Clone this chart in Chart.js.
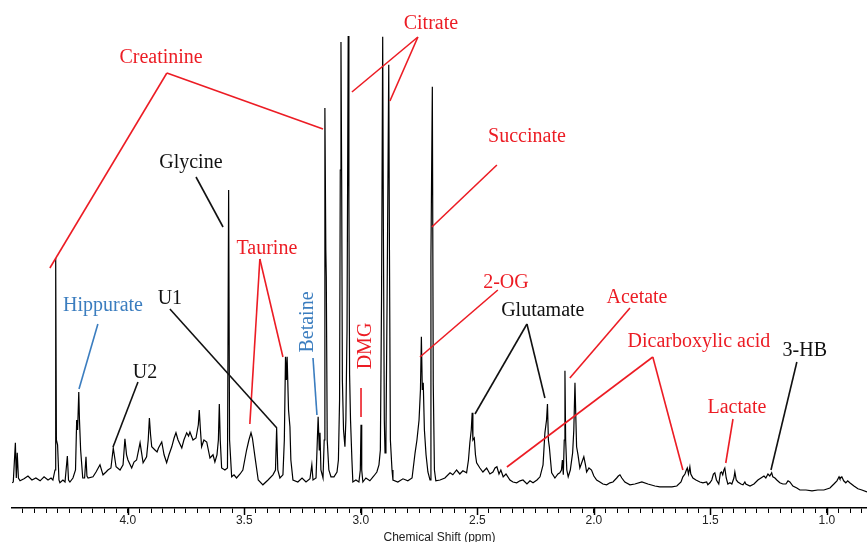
<!DOCTYPE html>
<html>
<head>
<meta charset="utf-8">
<script src="https://cdn.jsdelivr.net/npm/chart.js@4.4.1/dist/chart.umd.min.js"></script>
<style>
  html, body { margin: 0; padding: 0; background: #fff; }
  canvas { display: block; }
</style>
</head>
<body>
<canvas id="myChart" width="867" height="542"></canvas>
<script>
// 1H NMR spectrum, chemical shift (ppm) vs intensity (a.u.)
var shiftPpm = [
  4.496, 4.491, 4.482, 4.478, 4.474, 4.469, 4.462, 4.445, 4.428, 4.411, 4.394, 4.376, 4.359, 4.342, 4.329, 4.321,
  4.312, 4.309, 4.306, 4.301, 4.295, 4.291, 4.278, 4.269, 4.259, 4.254, 4.248, 4.235, 4.224, 4.219, 4.215, 4.210,
  4.207, 4.202, 4.193, 4.185, 4.179, 4.175, 4.170, 4.149, 4.136, 4.119, 4.106, 4.093, 4.085, 4.072, 4.062, 4.050,
  4.033, 4.020, 4.012, 4.005, 3.999, 3.983, 3.973, 3.962, 3.947, 3.934, 3.919, 3.912, 3.907, 3.902, 3.897, 3.883,
  3.874, 3.868, 3.854, 3.844, 3.833, 3.823, 3.811, 3.801, 3.793, 3.784, 3.768, 3.759, 3.747, 3.739, 3.733, 3.720,
  3.707, 3.697, 3.693, 3.688, 3.683, 3.673, 3.661, 3.647, 3.634, 3.626, 3.617, 3.611, 3.607, 3.603, 3.597, 3.583,
  3.572, 3.567, 3.563, 3.554, 3.544, 3.533, 3.518, 3.506, 3.490, 3.480, 3.471, 3.465, 3.454, 3.440, 3.420, 3.398,
  3.377, 3.366, 3.361, 3.356, 3.347, 3.334, 3.328, 3.323, 3.319, 3.316, 3.310, 3.304, 3.300, 3.291, 3.270, 3.252,
  3.235, 3.218, 3.210, 3.205, 3.192, 3.183, 3.178, 3.175, 3.171, 3.162, 3.157, 3.154, 3.150, 3.148, 3.144, 3.137,
  3.128, 3.115, 3.102, 3.096, 3.091, 3.088, 3.085, 3.082, 3.079, 3.074, 3.068, 3.064, 3.059, 3.054, 3.051, 3.048,
  3.044, 3.038, 3.034, 3.021, 3.008, 3.002, 2.999, 2.996, 2.991, 2.978, 2.961, 2.944, 2.931, 2.922, 2.916, 2.911,
  2.906, 2.903, 2.899, 2.896, 2.892, 2.887, 2.880, 2.877, 2.873, 2.866, 2.862, 2.841, 2.819, 2.798, 2.780, 2.767,
  2.759, 2.750, 2.744, 2.740, 2.736, 2.732, 2.727, 2.720, 2.712, 2.703, 2.699, 2.693, 2.689, 2.684, 2.678, 2.660,
  2.639, 2.617, 2.605, 2.589, 2.575, 2.562, 2.546, 2.538, 2.532, 2.526, 2.522, 2.519, 2.513, 2.508, 2.503, 2.489,
  2.476, 2.460, 2.446, 2.433, 2.424, 2.416, 2.407, 2.399, 2.389, 2.377, 2.360, 2.347, 2.331, 2.317, 2.304, 2.287,
  2.274, 2.261, 2.244, 2.231, 2.218, 2.210, 2.203, 2.199, 2.195, 2.191, 2.186, 2.181, 2.167, 2.154, 2.146, 2.139,
  2.135, 2.131, 2.127, 2.124, 2.121, 2.116, 2.110, 2.101, 2.091, 2.086, 2.081, 2.077, 2.074, 2.068, 2.060, 2.051,
  2.043, 2.036, 2.031, 2.021, 2.010, 2.000, 1.988, 1.974, 1.961, 1.945, 1.931, 1.918, 1.902, 1.895, 1.888, 1.880,
  1.867, 1.845, 1.824, 1.794, 1.768, 1.738, 1.717, 1.687, 1.665, 1.644, 1.626, 1.618, 1.609, 1.603, 1.599, 1.594,
  1.588, 1.584, 1.575, 1.562, 1.545, 1.532, 1.516, 1.511, 1.502, 1.494, 1.487, 1.481, 1.474, 1.464, 1.457, 1.452,
  1.447, 1.442, 1.438, 1.432, 1.425, 1.416, 1.408, 1.399, 1.395, 1.389, 1.382, 1.369, 1.360, 1.352, 1.348, 1.330,
  1.313, 1.296, 1.283, 1.270, 1.262, 1.253, 1.245, 1.237, 1.232, 1.223, 1.215, 1.202, 1.189, 1.176, 1.167, 1.159,
  1.146, 1.129, 1.116, 1.090, 1.064, 1.039, 1.013, 0.987, 0.970, 0.957, 0.948, 0.944, 0.936, 0.928, 0.919, 0.911,
  0.902, 0.884, 0.867, 0.850, 0.828
];
var intensity = [
  6.3, 6.5, 16.3, 7.5, 13.8, 7.5, 6.8, 7.3, 8.0, 7.0, 7.5, 6.8, 7.8, 7.0, 7.5, 7.0,
  9.5, 62.5, 17.0, 15.8, 7.0, 6.3, 7.0, 6.5, 13.0, 7.0, 6.5, 7.5, 9.5, 22.0, 19.5, 29.0,
  22.0, 14.5, 7.5, 7.5, 12.8, 8.0, 7.5, 7.8, 9.0, 10.8, 8.3, 9.0, 9.5, 10.0, 15.0, 10.3,
  9.5, 10.8, 17.3, 13.3, 12.0, 10.0, 11.5, 12.0, 16.3, 11.3, 12.8, 17.0, 22.5, 18.3, 15.3, 14.5,
  14.0, 15.0, 16.5, 13.3, 11.3, 13.3, 15.3, 17.5, 18.8, 17.0, 15.0, 17.0, 18.8, 18.0, 19.0, 17.0,
  17.5, 20.8, 24.5, 19.5, 15.3, 17.0, 16.5, 12.5, 13.3, 11.5, 13.3, 17.0, 26.0, 17.0, 10.0, 9.5,
  10.0, 79.5, 17.0, 7.8, 8.3, 7.5, 8.5, 9.5, 14.5, 17.0, 18.8, 17.5, 12.8, 7.0, 5.8, 7.0,
  8.3, 9.5, 20.0, 9.5, 7.5, 8.3, 17.0, 37.8, 32.0, 37.8, 24.5, 20.3, 12.0, 7.0, 6.5, 7.5,
  6.5, 7.3, 10.8, 7.0, 7.5, 22.8, 14.5, 18.8, 9.5, 7.5, 17.0, 100.0, 64.5, 57.8, 17.0, 9.5,
  7.8, 7.8, 9.0, 12.0, 27.0, 84.5, 116.5, 82.0, 32.0, 19.5, 15.3, 22.0, 44.5, 118.0, 77.0, 33.3,
  22.0, 12.0, 6.5, 7.0, 6.5, 9.5, 20.8, 9.5, 6.5, 7.5, 6.8, 8.0, 9.0, 10.8, 14.5, 52.0,
  117.8, 69.5, 22.0, 13.8, 17.0, 52.8, 110.8, 64.5, 17.0, 9.5, 7.0, 6.5, 7.3, 6.8, 7.5, 13.8,
  17.0, 22.0, 29.5, 42.8, 29.5, 31.3, 19.5, 13.3, 9.0, 7.0, 62.5, 105.3, 30.8, 9.5, 6.8, 7.0,
  7.5, 8.8, 8.3, 9.5, 8.5, 9.3, 8.8, 12.0, 16.3, 19.5, 23.8, 17.0, 17.5, 13.3, 11.3, 10.0,
  9.0, 10.0, 8.5, 9.0, 10.0, 10.3, 8.5, 9.5, 7.8, 8.5, 7.0, 6.5, 6.3, 6.8, 7.0, 6.0,
  6.8, 6.3, 7.0, 7.8, 10.8, 18.8, 22.0, 26.0, 17.0, 15.3, 12.0, 8.8, 7.5, 8.5, 8.8, 9.5,
  12.0, 8.3, 17.0, 34.3, 17.0, 9.5, 7.8, 9.5, 13.8, 19.5, 31.3, 22.0, 15.3, 13.3, 10.0, 11.5,
  12.8, 10.8, 9.0, 10.0, 9.5, 8.0, 7.0, 6.5, 6.0, 5.8, 6.3, 6.5, 7.5, 8.0, 8.3, 7.5,
  6.5, 5.8, 6.0, 6.5, 6.0, 5.5, 5.3, 5.3, 5.3, 5.5, 6.5, 7.8, 8.5, 9.5, 10.0, 8.5,
  10.3, 8.5, 7.5, 7.0, 6.5, 6.3, 6.5, 5.8, 6.3, 7.0, 8.5, 8.8, 7.0, 6.0, 8.8, 9.0,
  8.3, 9.5, 10.0, 7.5, 6.0, 6.3, 6.0, 7.5, 9.0, 7.0, 6.5, 6.0, 5.8, 6.5, 6.0, 5.5,
  6.0, 7.0, 7.5, 8.0, 7.5, 8.5, 8.0, 8.8, 7.8, 7.5, 7.0, 6.3, 6.0, 6.0, 6.8, 6.5,
  5.5, 5.0, 4.5, 4.5, 4.3, 4.5, 4.5, 5.0, 6.0, 6.8, 7.8, 7.3, 7.8, 6.8, 6.3, 6.8,
  6.3, 5.5, 4.8, 4.5, 4.0
];
var tickLabels = ['4.0', '3.5', '3.0', '2.5', '2.0', '1.5', '1.0'];

// peak assignments
var metabolites = ['Creatinine', 'Citrate', 'Glycine', 'Taurine', 'Hippurate', 'U1', 'U2', 'Betaine',
  'DMG', 'Succinate', '2-OG', 'Glutamate', 'Acetate', 'Dicarboxylic acid', '3-HB', 'Lactate'];

var RED = '#ec1c24', BLUE = '#3b7dbf', BLACK = '#111111';

// where each label sits and where its leader lines go, in (ppm, intensity)
var labelSpots = [
  { at: [3.857, 112.5], col: RED, from: [3.832, 108.75], to: [[4.334, 60], [3.162, 94.75]] },
  { at: [2.699, 121], col: RED, from: [2.755, 117.75], to: [[3.038, 104], [2.875, 101.75]] },
  { at: [3.729, 86.25], col: BLACK, from: [3.707, 82.75], to: [[3.591, 70.25]] },
  { at: [3.403, 64.75], col: RED, from: [3.433, 62.25], to: [[3.476, 21], [3.334, 37.75]] },
  { at: [4.106, 50.5], col: BLUE, from: [4.128, 46], to: [[4.209, 29.75]] },
  { at: [3.819, 52.2], col: BLACK, from: [3.819, 49.75], to: [[3.360, 20]] },
  { at: [3.926, 33.75], col: BLACK, from: [3.956, 31.5], to: [[4.063, 15.25]] },
  { at: [3.227, 46.5], col: BLUE, rot: true, from: [3.205, 37.5], to: [[3.188, 23.25]] },
  { at: [2.978, 40.5], col: RED, rot: true, from: [2.999, 30], to: [[2.999, 22.75]] },
  { at: [2.287, 92.75], col: RED, from: [2.416, 85.75], to: [[2.695, 70.25]] },
  { at: [2.377, 56.25], col: RED, from: [2.412, 54.5], to: [[2.746, 37.75]] },
  { at: [2.219, 49.25], col: BLACK, from: [2.287, 46], to: [[2.510, 23.5], [2.210, 27.5]] },
  { at: [1.815, 52.5], col: RED, from: [1.845, 50], to: [[2.103, 32.5]] },
  { at: [1.549, 41.5], col: RED, from: [1.747, 37.75], to: [[2.373, 10.25], [1.618, 9.5]] },
  { at: [1.095, 39.25], col: BLACK, from: [1.129, 36.5], to: [[1.240, 9.5]] },
  { at: [1.386, 25], col: RED, from: [1.403, 22.25], to: [[1.434, 11.25]] }
];

var points = shiftPpm.map(function (p, i) { return { x: p, y: intensity[i] }; });

var peakLabels = {
  id: 'peakLabels',
  afterDatasetsDraw: function (chart) {
    var ctx = chart.ctx, xs = chart.scales.x, ys = chart.scales.y;
    ctx.save();
    ctx.lineWidth = 1.6;
    labelSpots.forEach(function (s, i) {
      ctx.strokeStyle = s.col;
      var fx = xs.getPixelForValue(s.from[0]), fy = ys.getPixelForValue(s.from[1]);
      s.to.forEach(function (t) {
        ctx.beginPath();
        ctx.moveTo(fx, fy);
        ctx.lineTo(xs.getPixelForValue(t[0]), ys.getPixelForValue(t[1]));
        ctx.stroke();
      });
      ctx.fillStyle = s.col;
      ctx.font = '20px "Liberation Serif", "Times New Roman", serif';
      ctx.textAlign = 'center';
      ctx.textBaseline = 'middle';
      var tx = xs.getPixelForValue(s.at[0]), ty = ys.getPixelForValue(s.at[1]);
      if (s.rot) {
        ctx.save();
        ctx.translate(tx, ty);
        ctx.rotate(-Math.PI / 2);
        ctx.fillText(metabolites[i], 0, 0);
        ctx.restore();
      } else {
        ctx.fillText(metabolites[i], tx, ty);
      }
    });
    ctx.restore();
  }
};

// longer marks at the labelled shifts
var majorTicks = {
  id: 'majorTicks',
  afterDraw: function (chart) {
    var ctx = chart.ctx, xs = chart.scales.x, y0 = chart.chartArea.bottom;
    ctx.save();
    ctx.strokeStyle = '#000';
    ctx.lineWidth = 1.5;
    tickLabels.forEach(function (t) {
      var px = Math.round(xs.getPixelForValue(parseFloat(t))) + 0.5;
      ctx.beginPath();
      ctx.moveTo(px, y0);
      ctx.lineTo(px, y0 + 7);
      ctx.stroke();
    });
    ctx.restore();
  }
};

new Chart(document.getElementById('myChart'), {
  type: 'line',
  data: {
    datasets: [{
      data: points,
      borderColor: '#000',
      borderWidth: 1.2,
      pointRadius: 0,
      tension: 0,
      fill: false
    }]
  },
  options: {
    responsive: false,
    animation: false,
    layout: { padding: { left: 12, right: 0, top: 0, bottom: 0 } },
    plugins: { legend: { display: false }, tooltip: { enabled: false } },
    scales: {
      x: {
        type: 'linear',
        reverse: true,
        min: 0.828,
        max: 4.4965,
        afterBuildTicks: function (scale) {
          var list = [];
          for (var k = 17; k <= 89; k++) list.push({ value: k * 0.05 });
          scale.ticks = list;
        },
        afterFit: function (scale) { scale.height = 34; },
        grid: { display: true, drawOnChartArea: false, drawTicks: true, tickLength: 5, color: '#000', lineWidth: 1 },
        border: { display: true, color: '#000', width: 1.5 },
        ticks: {
          autoSkip: false,
          maxRotation: 0,
          padding: 2,
          color: '#222',
          font: { family: '"Liberation Sans", Arial, sans-serif', size: 12, lineHeight: 1 },
          callback: function (v) {
            var s = v.toFixed(1);
            return (Math.abs(v * 2 - Math.round(v * 2)) < 1e-6 && tickLabels.indexOf(s) >= 0) ? s : '';
          }
        },
        title: {
          display: true,
          text: 'Chemical Shift (ppm)',
          color: '#222',
          padding: { top: 0, bottom: -2 },
          font: { family: '"Liberation Sans", Arial, sans-serif', size: 12, lineHeight: 1 }
        }
      },
      y: { display: false, min: 0, max: 127 }
    }
  },
  plugins: [peakLabels, majorTicks]
});
</script>
</body>
</html>
